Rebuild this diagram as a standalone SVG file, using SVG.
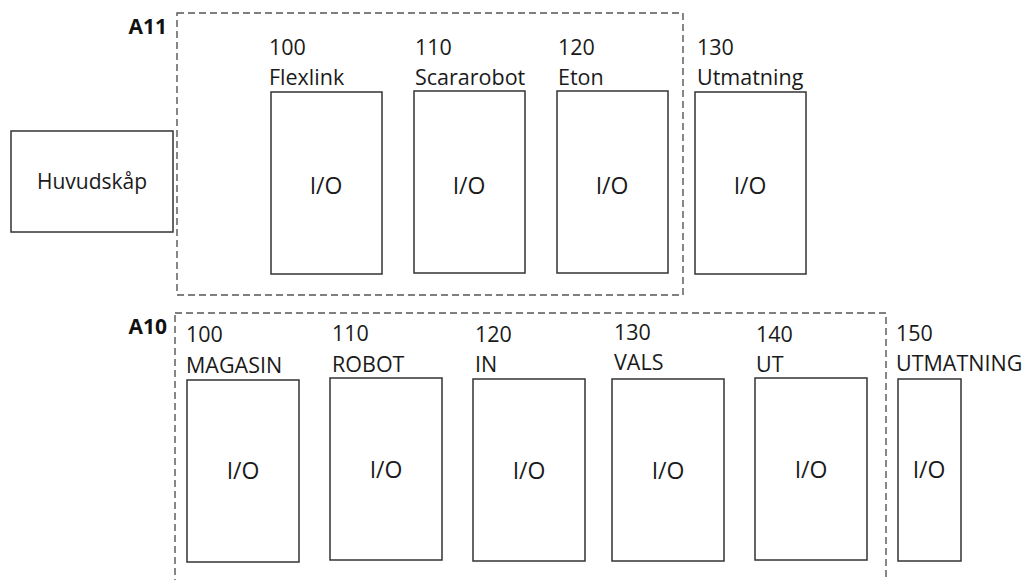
<svg xmlns="http://www.w3.org/2000/svg" width="1028" height="580" viewBox="0 0 1028 580">
<style>
  .box { fill: #ffffff; stroke: #333333; stroke-width: 1.5; }
  .grp { fill: none; stroke: #555555; stroke-width: 1.4; stroke-dasharray: 7 4; }
  text { font-family: "Open Sans", "Noto Sans", "Liberation Sans", sans-serif; font-size: 21.5px; fill: #1a1a1a; }
  .c { text-anchor: middle; }
  .io { font-size: 23px; }
  .h { font-size: 21px; }
  .b { font-weight: bold; fill: #111111; font-size: 21px; }
</style>
<rect width="1028" height="580" fill="#ffffff"/>
<g id="groups">
  <g id="A11"><rect class="grp" x="177" y="13" width="506" height="282"/><text class="b" x="167" y="34" text-anchor="end">A11</text></g>
  <g id="A10"><rect class="grp" x="175" y="313" width="711" height="300"/><text class="b" x="167" y="334" text-anchor="end">A10</text></g>
</g>
<g id="connectors"></g>
<g id="huvudskap"><rect class="box" x="11" y="131" width="162" height="101"/><text class="c h" x="92" y="189">Huvudskåp</text></g>
<g id="a11-100"><text x="269" y="55">100</text><text x="269" y="85">Flexlink</text><rect class="box" x="271" y="92" width="111" height="182"/><text class="c io" x="326" y="194">I/O</text></g>
<g id="a11-110"><text x="415" y="55">110</text><text x="415" y="85">Scararobot</text><rect class="box" x="414" y="91" width="111" height="182"/><text class="c io" x="469" y="194">I/O</text></g>
<g id="a11-120"><text x="558" y="55">120</text><text x="558" y="85">Eton</text><rect class="box" x="557" y="91" width="111" height="182"/><text class="c io" x="612" y="194">I/O</text></g>
<g id="a11-130"><text x="697" y="55">130</text><text x="697" y="85">Utmatning</text><rect class="box" x="695" y="92" width="111" height="182"/><text class="c io" x="750" y="194">I/O</text></g>
<g id="a10-100"><text x="186" y="342">100</text><text x="186" y="373">MAGASIN</text><rect class="box" x="187" y="380" width="112" height="182"/><text class="c io" x="243" y="479">I/O</text></g>
<g id="a10-110"><text x="332" y="341">110</text><text x="332" y="372">ROBOT</text><rect class="box" x="330" y="378" width="112" height="182"/><text class="c io" x="386" y="478">I/O</text></g>
<g id="a10-120"><text x="475" y="342">120</text><text x="475" y="372">IN</text><rect class="box" x="473" y="379" width="112" height="182"/><text class="c io" x="529" y="479">I/O</text></g>
<g id="a10-130"><text x="614" y="340">130</text><text x="614" y="370">VALS</text><rect class="box" x="612" y="379" width="112" height="182"/><text class="c io" x="668" y="479">I/O</text></g>
<g id="a10-140"><text x="756" y="342">140</text><text x="756" y="372">UT</text><rect class="box" x="755" y="378" width="112" height="182"/><text class="c io" x="811" y="478">I/O</text></g>
<g id="a10-150"><text x="896" y="341">150</text><text x="896" y="371">UTMATNING</text><rect class="box" x="898" y="379" width="63" height="182"/><text class="c io" x="929" y="478">I/O</text></g>
</svg>
